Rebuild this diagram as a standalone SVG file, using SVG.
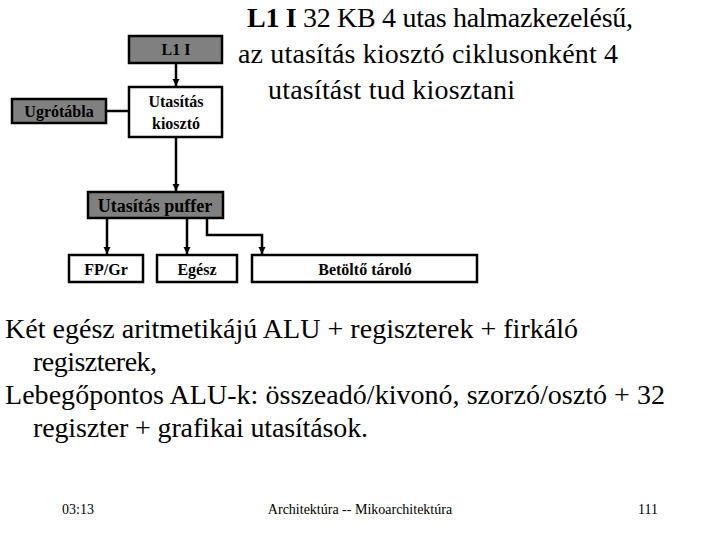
<svg xmlns="http://www.w3.org/2000/svg" width="720" height="540" viewBox="0 0 720 540">
<style>
.box{stroke:#000;stroke-width:2.5}
.g{fill:#808080}
.w{fill:#fff}
.lbl{font-family:"Liberation Serif","Times New Roman",serif;font-weight:bold;font-size:16px;text-anchor:middle;fill:#000}
.big{font-family:"Liberation Serif","Times New Roman",serif;font-size:28px;fill:#000}
.foot{font-family:"Liberation Serif","Times New Roman",serif;font-size:14px;fill:#000}
.conn{stroke:#000;stroke-width:2.5;fill:none}
</style>
<defs>
<marker id="ah" markerWidth="8" markerHeight="8" refX="7" refY="4" orient="auto" markerUnits="userSpaceOnUse">
<path d="M0,0.5 L7,4 L0,7.5 Z" fill="#000"/>
</marker>
</defs>
<rect width="720" height="540" fill="#fff"/>
<g id="connectors">
<line class="conn" x1="176" y1="63" x2="176" y2="86" marker-end="url(#ah)"/>
<line class="conn" x1="106" y1="111" x2="129" y2="111"/>
<line class="conn" x1="176" y1="137" x2="176" y2="191" marker-end="url(#ah)"/>
<line class="conn" x1="107" y1="218" x2="107" y2="254" marker-end="url(#ah)"/>
<line class="conn" x1="187" y1="218" x2="187" y2="254" marker-end="url(#ah)"/>
<polyline class="conn" points="207,218 207,235 262,235 262,254" marker-end="url(#ah)"/>
</g>
<g id="l1i">
<rect class="box g" x="129" y="36" width="93" height="27"/>
<text class="lbl" x="176" y="55">L1 I</text>
</g>
<g id="kioszto">
<rect class="box w" x="129" y="87" width="93" height="50"/>
<text class="lbl" x="176" y="107">Utasítás</text>
<text class="lbl" x="176" y="129">kiosztó</text>
</g>
<g id="ugrotabla">
<rect class="box g" x="12" y="99" width="94" height="24"/>
<text class="lbl" x="59" y="117">Ugrótábla</text>
</g>
<g id="puffer">
<rect class="box g" x="88" y="192" width="135" height="26"/>
<text class="lbl" x="155" y="212" style="font-size:18px">Utasítás puffer</text>
</g>
<g id="fpgr">
<rect class="box w" x="69" y="255" width="74" height="27"/>
<text class="lbl" x="106" y="275">FP/Gr</text>
</g>
<g id="egesz">
<rect class="box w" x="157" y="255" width="80" height="27"/>
<text class="lbl" x="197" y="275">Egész</text>
</g>
<g id="betolto">
<rect class="box w" x="252" y="255" width="225" height="27"/>
<text class="lbl" x="365" y="275">Betöltő tároló</text>
</g>
<g id="title">
<text class="big" x="247" y="27" textLength="386" lengthAdjust="spacing"><tspan font-weight="bold">L1 I</tspan> 32 KB 4 utas halmazkezelésű,</text>
<text class="big" x="238" y="63" textLength="380" lengthAdjust="spacing">az utasítás kiosztó ciklusonként 4</text>
<text class="big" x="268" y="99" textLength="247" lengthAdjust="spacing">utasítást tud kiosztani</text>
</g>
<g id="body">
<text class="big" x="5" y="338" textLength="573" lengthAdjust="spacing">Két egész aritmetikájú ALU + regiszterek + firkáló</text>
<text class="big" x="33" y="371" textLength="124" lengthAdjust="spacing">regiszterek,</text>
<text class="big" x="5" y="404" textLength="660" lengthAdjust="spacing">Lebegőpontos ALU-k: összeadó/kivonó, szorzó/osztó + 32</text>
<text class="big" x="33" y="437" textLength="335" lengthAdjust="spacing">regiszter + grafikai utasítások.</text>
</g>
<g id="footer">
<text class="foot" x="62" y="514">03:13</text>
<text class="foot" x="360" y="514" text-anchor="middle">Architektúra -- Mikoarchitektúra</text>
<text class="foot" x="658" y="514" text-anchor="end">111</text>
</g>
</svg>
